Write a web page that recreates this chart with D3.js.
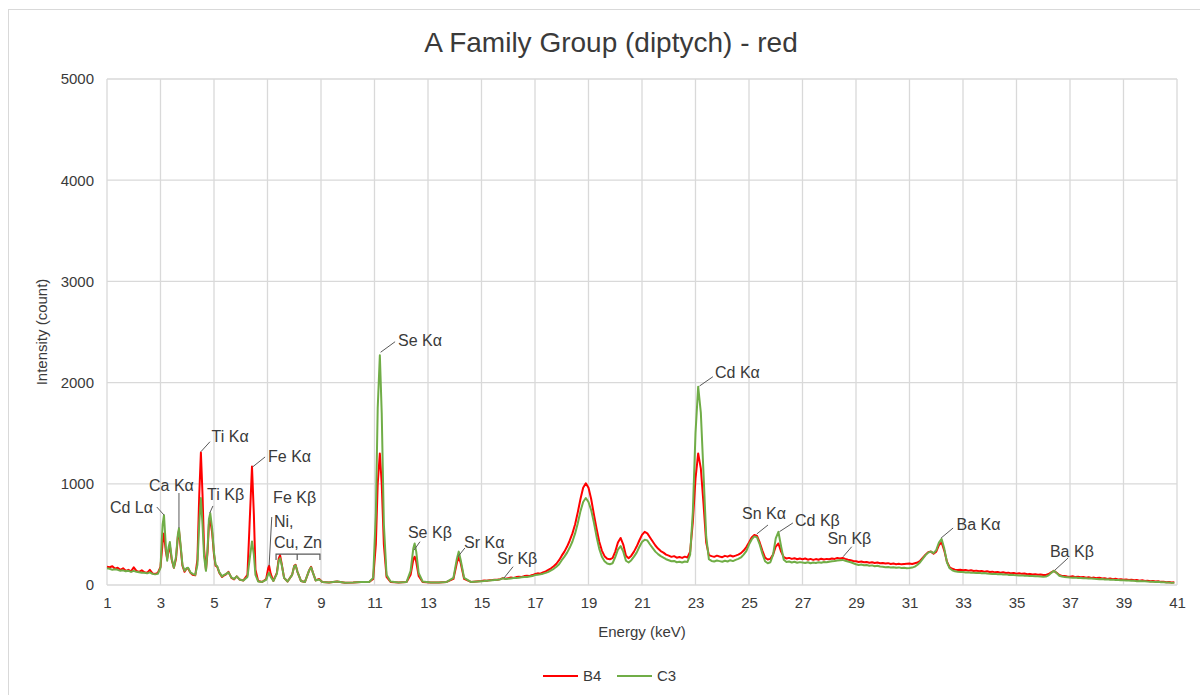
<!DOCTYPE html>
<html>
<head>
<meta charset="utf-8">
<script src="https://cdnjs.cloudflare.com/ajax/libs/d3/7.8.5/d3.min.js"></script>
<style>
  body { margin: 0; background: #fff; }
  svg text { font-family: "Liberation Sans", Arial, sans-serif; fill: #3a3a3a; }
</style>
</head>
<body>
<div id="chart"></div>
<script>
// energies (keV) shared by both spectra
var energy = [1.0,1.1,1.2,1.3,1.4,1.5,1.6,1.7,1.8,1.9,2.0,2.1,2.2,2.3,2.4,2.5,2.6,2.7,2.8,2.9,
  3.0,3.05,3.08,3.13,3.2,3.25,3.3,3.35,3.42,3.5,3.58,3.65,3.69,3.75,3.82,3.9,3.97,4.03,4.12,4.2,4.3,
  4.38,4.45,4.51,4.57,4.63,4.7,4.76,4.81,4.86,4.93,5.0,5.06,5.12,5.2,5.3,5.35,5.45,5.54,5.65,5.75,5.85,5.95,
  6.1,6.25,6.33,6.42,6.49,6.55,6.65,6.8,6.95,7.03,7.06,7.12,7.22,7.35,7.42,7.47,7.53,7.62,7.75,7.92,8.0,8.05,
  8.12,8.25,8.4,8.55,8.63,8.7,8.8,8.93,9.05,9.3,9.6,9.9,10.2,10.5,10.8,10.95,11.05,11.12,11.2,11.27,11.35,
  11.45,11.6,11.9,12.2,12.35,12.45,12.5,12.56,12.65,12.8,13.1,13.4,13.7,13.95,14.08,14.15,14.22,14.35,14.6,
  15.0,15.1,15.2,15.3,15.4,15.5,15.6,15.7,15.8,15.9,
  16.0,16.1,16.2,16.3,16.4,16.5,16.6,16.7,16.8,16.9,
  17.0,17.1,17.2,17.3,17.4,17.5,17.6,17.7,17.8,17.9,
  18.0,18.1,18.2,18.3,18.4,18.5,18.6,18.7,18.8,18.9,
  19.0,19.1,19.2,19.3,19.4,19.5,19.6,19.7,19.8,19.9,
  20.0,20.1,20.2,20.3,20.4,20.5,20.6,20.7,20.8,20.9,
  21.0,21.1,21.2,21.3,21.4,21.5,21.6,21.7,21.8,21.9,
  22.0,22.1,22.2,22.3,22.4,22.5,22.6,22.7,22.8,22.9,
  23.0,23.1,23.2,23.3,23.4,23.5,23.6,23.7,23.8,23.9,
  24.0,24.1,24.2,24.3,24.4,24.5,24.6,24.7,24.8,24.9,
  25.0,25.1,25.2,25.3,25.4,25.5,25.6,25.7,25.8,25.9,
  26.0,26.1,26.2,26.3,26.4,26.5,26.6,26.7,26.8,26.9,
  27.0,27.1,27.2,27.3,27.4,27.5,27.6,27.7,27.8,27.9,
  28.0,28.1,28.2,28.3,28.4,28.5,28.6,28.7,28.8,28.9,
  29.0,29.1,29.2,29.3,29.4,29.5,29.6,29.7,29.8,29.9,
  30.0,30.1,30.2,30.3,30.4,30.5,30.6,30.7,30.8,30.9,
  31.0,31.1,31.2,31.3,31.4,31.5,31.6,31.7,31.8,31.9,
  32.0,32.1,32.2,32.3,32.4,32.5,32.6,32.7,32.8,32.9,
  33.0,33.1,33.2,33.3,33.4,33.5,33.6,33.7,33.8,33.9,
  34.0,34.1,34.2,34.3,34.4,34.5,34.6,34.7,34.8,34.9,
  35.0,35.1,35.2,35.3,35.4,35.5,35.6,35.7,35.8,35.9,
  36.0,36.1,36.2,36.3,36.4,36.5,36.6,36.7,36.8,36.9,
  37.0,37.1,37.2,37.3,37.4,37.5,37.6,37.7,37.8,37.9,
  38.0,38.1,38.2,38.3,38.4,38.5,38.6,38.7,38.8,38.9,
  39.0,39.1,39.2,39.3,39.4,39.5,39.6,39.7,39.8,39.9,
  40.0,40.1,40.2,40.3,40.4,40.5,40.6,40.7,40.8,40.9];

// B4 counts (red)
var b4 = [180,175,185,160,170,150,165,140,150,135,175,140,130,145,125,120,150,115,110,120,
  180,330,420,510,330,260,330,390,250,170,260,480,540,380,190,130,160,165,120,100,95,
  250,900,1310,900,350,150,330,600,640,520,300,190,180,120,80,90,105,130,70,55,85,55,
  45,100,600,1170,700,150,40,30,60,170,190,110,40,120,260,295,210,70,35,100,190,200,
  130,40,30,140,180,120,45,60,30,25,35,22,25,30,30,60,400,1000,1300,1000,400,
  80,30,25,30,100,250,280,230,90,30,25,25,30,60,220,280,220,60,30,
  40,44,42,48,50,53,52,58,68,62,
  68,74,70,78,82,80,88,92,90,98,
  108,115,112,125,135,150,165,185,210,245,
  290,330,380,440,510,600,720,850,960,1005,
  960,850,700,560,430,340,285,260,255,265,
  330,420,465,400,290,265,290,330,380,440,
  495,525,510,470,430,390,360,335,320,300,
  290,278,285,270,276,268,280,272,330,620,
  1050,1300,1150,800,420,295,285,278,290,282,
  275,288,280,292,282,290,300,315,340,375,
  420,470,495,485,420,340,270,252,258,300,
  380,410,330,275,262,268,258,265,255,262,
  255,262,250,258,248,256,250,260,252,258,
  255,262,258,266,262,268,258,250,245,238,
  235,228,232,225,228,220,225,218,222,215,
  218,212,216,208,212,206,210,204,208,210,
  212,208,215,222,240,270,300,325,330,310,
  330,395,420,340,230,175,160,152,148,150,
  145,148,142,145,138,142,135,138,132,135,
  128,132,125,128,122,126,118,122,115,118,
  112,116,110,113,106,110,104,107,101,103,
  98,100,108,125,140,120,98,90,88,84,
  82,86,78,82,76,79,72,76,70,73,
  68,71,64,67,60,64,58,61,55,58,
  52,55,49,52,46,49,43,46,40,43,
  38,40,34,36,31,33,28,30,24,26];

// C3 counts (green)
var c3 = [165,160,150,155,150,140,145,135,140,130,140,130,125,120,120,115,125,110,105,110,
  170,450,600,690,380,240,370,425,260,170,280,500,560,400,200,140,165,170,125,110,100,
  200,620,860,600,280,140,360,650,710,560,320,200,185,125,85,95,110,125,75,60,85,55,
  45,80,250,430,300,100,35,30,50,110,120,80,40,110,240,265,200,70,35,100,185,195,
  130,40,30,140,175,120,45,55,30,25,35,22,25,30,30,70,700,1750,2270,1700,600,
  100,35,25,30,140,360,410,330,120,35,25,25,30,70,260,330,250,70,30,
  38,40,43,44,47,50,52,55,66,60,
  62,65,68,70,72,76,78,80,84,88,
  98,102,105,112,120,130,145,160,180,205,
  245,280,320,370,430,510,610,730,820,860,
  820,740,620,480,360,280,235,212,205,215,
  275,350,385,330,240,222,245,280,320,375,
  425,448,440,400,365,330,305,285,270,255,
  245,235,238,225,230,222,232,228,300,720,
  1500,1960,1700,1100,480,255,238,232,242,236,
  230,240,232,245,236,248,258,272,300,335,
  400,450,480,470,400,310,235,215,225,300,
  460,525,380,250,228,232,222,230,220,226,
  222,218,225,215,222,218,224,220,228,224,
  230,235,238,242,245,248,240,232,225,215,
  205,198,202,195,198,190,194,186,190,182,
  180,176,178,172,176,170,174,168,170,165,
  168,172,182,200,225,260,295,320,330,315,
  345,420,455,360,225,165,145,135,130,128,
  128,124,126,120,122,118,120,115,118,114,
  112,108,110,106,108,103,105,100,102,98,
  96,93,95,91,92,88,90,86,87,84,
  82,84,95,120,140,118,92,84,80,77,
  74,72,73,69,70,66,67,63,64,61,
  60,58,59,55,56,52,53,49,50,47,
  46,44,45,41,42,38,39,36,37,34,
  32,33,30,31,27,28,24,25,21,22];

var xTicks = [1,3,5,7,9,11,13,15,17,19,21,23,25,27,29,31,33,35,37,39,41];
var yTicks = [0,1000,2000,3000,4000,5000];

// peak labels: text, text position (keV, count), leader from -> to
var peakLabels = [
  ["Cd L\u03b1", 1.11, 771, 2.86, 771, 3.13, 692],
  ["Ca K\u03b1", 2.57, 988, 3.69, 909, 3.69, 563],
  ["Ti K\u03b1", 4.91, 1465, 4.85, 1416, 4.51, 1317],
  ["Ti K\u03b2", 4.74, 899, 4.96, 781, 4.84, 711],
  ["Fe K\u03b1", 7.02, 1268, 6.91, 1265, 6.44, 1166],
  ["Fe K\u03b2", 7.21, 870, 7.16, 672, 7.06, 190],
  ["Ni,", 7.24, 625],
  ["Cu, Zn", 7.24, 425],
  ["Se K\u03b1", 11.88, 2421, 11.77, 2404, 11.23, 2300],
  ["Se K\u03b2", 12.25, 524, 12.70, 428, 12.48, 346],
  ["Sr K\u03b1", 14.35, 422, 14.38, 366, 14.12, 280],
  ["Sr K\u03b2", 15.58, 267, 16.18, 181, 15.84, 69],
  ["Cd K\u03b1", 23.73, 2098, 23.65, 2058, 23.15, 1966],
  ["Sn K\u03b1", 24.74, 708, 25.71, 593, 25.29, 504],
  ["Cd K\u03b2", 26.72, 642, 26.64, 613, 26.14, 527],
  ["Sn K\u03b2", 27.93, 461, 28.84, 378, 28.52, 280],
  ["Ba K\u03b1", 32.76, 603, 32.63, 563, 32.18, 464],
  ["Ba K\u03b2", 36.25, 329, 36.93, 267, 36.44, 148]
];
// Ni / Cu / Zn bracket (keV ends + middle, count level)
var bracketE = [7.32, 8.11, 8.96];
var bracketC = [306, 247];

var width = 1200, height = 695;
var margin = {top: 79, right: 23, bottom: 110, left: 107};

var svg = d3.select("#chart").append("svg")
  .attr("width", width)
  .attr("height", height);

// outer chart border
svg.append("rect")
  .attr("x", 8.5).attr("y", 9.5)
  .attr("width", 1220).attr("height", 720)
  .attr("fill", "none")
  .attr("stroke", "#d9d9d9");

var x = d3.scaleLinear().domain([1, 41]).range([margin.left, width - margin.right]);
var y = d3.scaleLinear().domain([0, 5000]).range([height - margin.bottom, margin.top]);

// gridlines
svg.append("g").selectAll("line").data(xTicks).enter().append("line")
  .attr("x1", function(d) { return x(d); }).attr("x2", function(d) { return x(d); })
  .attr("y1", y(0)).attr("y2", y(5000))
  .attr("stroke", "#d9d9d9").attr("stroke-width", 1.3);
svg.append("g").selectAll("line").data(yTicks).enter().append("line")
  .attr("x1", x(1)).attr("x2", x(41))
  .attr("y1", function(d) { return y(d); }).attr("y2", function(d) { return y(d); })
  .attr("stroke", "#d9d9d9").attr("stroke-width", 1.3);

// axes (labels only)
var xAxis = svg.append("g")
  .attr("transform", "translate(0," + y(0) + ")")
  .call(d3.axisBottom(x).tickValues(xTicks).tickSize(0).tickPadding(12).tickFormat(d3.format("d")));
var yAxis = svg.append("g")
  .attr("transform", "translate(" + x(1) + ",0)")
  .call(d3.axisLeft(y).tickValues(yTicks).tickSize(0).tickPadding(13).tickFormat(d3.format("d")));
[xAxis, yAxis].forEach(function(a) {
  a.select(".domain").remove();
  a.selectAll("text").style("font-size", "15px").attr("fill", "#333");
});

var line = function(vals) {
  return d3.line()
    .x(function(d, i) { return x(energy[i]); })
    .y(function(d) { return y(d); })(vals);
};

svg.append("path").attr("d", line(b4))
  .attr("fill", "none").attr("stroke", "#ff0000").attr("stroke-width", 2)
  .attr("stroke-linejoin", "round");
svg.append("path").attr("d", line(c3))
  .attr("fill", "none").attr("stroke", "#70ad47").attr("stroke-width", 2)
  .attr("stroke-linejoin", "round");

// peak labels + leader lines
var lab = svg.append("g");
peakLabels.forEach(function(p) {
  lab.append("text")
    .attr("x", x(p[1])).attr("y", y(p[2]))
    .attr("dy", "0.35em")
    .style("font-size", "16px")
    .attr("fill", "#262626")
    .text(p[0]);
  if (p.length > 3) {
    lab.append("line")
      .attr("x1", x(p[3])).attr("y1", y(p[4]))
      .attr("x2", x(p[5])).attr("y2", y(p[6]))
      .attr("stroke", "#595959").attr("stroke-width", 1);
  }
});
lab.append("path")
  .attr("d", "M" + x(bracketE[0]) + "," + y(bracketC[1]) +
    "V" + y(bracketC[0]) + "H" + x(bracketE[2]) + "V" + y(bracketC[1]) +
    "M" + x(bracketE[1]) + "," + y(bracketC[0]) + "V" + y(bracketC[1]))
  .attr("fill", "none").attr("stroke", "#595959").attr("stroke-width", 1.2);

// titles
svg.append("text")
  .attr("x", 611).attr("y", 52)
  .attr("text-anchor", "middle")
  .style("font-size", "28px")
  .attr("fill", "#333")
  .text("A Family Group (diptych) - red");

svg.append("text")
  .attr("x", 642).attr("y", 637)
  .attr("text-anchor", "middle")
  .style("font-size", "15px")
  .text("Energy (keV)");

svg.append("text")
  .attr("transform", "translate(47," + ((y(0) + y(5000)) / 2) + ") rotate(-90)")
  .attr("text-anchor", "middle")
  .style("font-size", "15px")
  .text("Intensity (count)");

// legend
var legend = svg.append("g").attr("transform", "translate(543,676)");
[["B4", "#ff0000"], ["C3", "#70ad47"]].forEach(function(s, i) {
  var g = legend.append("g").attr("transform", "translate(" + (i * 74) + ",0)");
  g.append("line").attr("x1", 0).attr("x2", 35).attr("y1", 0).attr("y2", 0)
    .attr("stroke", s[1]).attr("stroke-width", 2);
  g.append("text").attr("x", 40).attr("dy", "0.35em").style("font-size", "15px").text(s[0]);
});
</script>
</body>
</html>
